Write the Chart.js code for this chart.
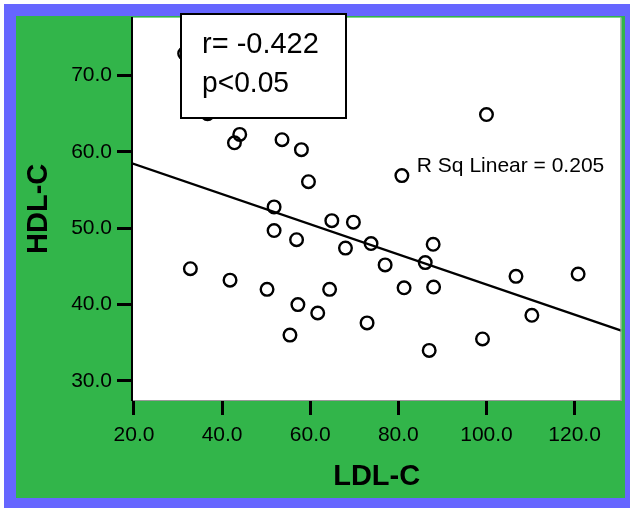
<!DOCTYPE html>
<html>
<head>
<meta charset="utf-8">
<script src="https://cdn.jsdelivr.net/npm/chart.js@4.4.1/dist/chart.umd.min.js"></script>
<style>
  html, body { margin: 0; padding: 0; background: #fff; }
  #wrap { width: 630px; height: 508px; }
</style>
</head>
<body>
<div id="wrap"><canvas id="chart" width="630" height="508"></canvas></div>
<script>
  // ---------- data ----------
  const ldl = [31.5, 36.7, 44.0, 42.8, 53.6, 58.0, 59.6, 51.8, 51.8, 56.9, 32.8, 41.8, 50.2, 57.2,
    55.4, 61.7, 64.4, 72.9, 77.0, 81.3, 88.0, 86.1, 87.0, 64.9, 69.8, 68.0, 73.8, 87.9, 80.8,
    100.0, 106.7, 120.8, 110.3, 99.1];
  const hdl = [72.9, 65.0, 62.3, 61.2, 61.6, 60.3, 56.1, 52.8, 49.7, 48.5, 44.7, 43.2, 42.0, 40.0,
    36.0, 38.9, 42.0, 37.6, 45.2, 42.2, 42.3, 45.5, 34.0, 51.0, 50.8, 47.4, 48.0, 47.9, 56.9,
    64.9, 43.7, 44.0, 38.6, 35.5];
  const fitLdl = [19.55, 130.6];
  const fitHdl = [58.5, 36.6];
  const xTicks = [20, 40, 60, 80, 100, 120];
  const yTicks = [30, 40, 50, 60, 70];
  const statLines = ["r= -0.422", "p<0.05"];
  const rsqText = "R Sq Linear = 0.205";

  const FONT = "'Liberation Sans', Arial, Helvetica, sans-serif";
  const BLUE = "#6666ff";
  const GREEN = "#32b54a";

  const frame = {
    id: "frame",
    beforeDraw(chart) {
      const { ctx, chartArea: a } = chart;
      ctx.save();
      ctx.fillStyle = "#fff";
      ctx.fillRect(0, 0, chart.width, chart.height);
      ctx.fillStyle = BLUE;
      ctx.fillRect(4, 4, chart.width - 4, chart.height - 4);
      ctx.fillStyle = GREEN;
      ctx.fillRect(16, 16, 609, 482);
      ctx.fillStyle = "#fff";
      ctx.fillRect(a.left, a.top, a.right - a.left, a.bottom - a.top);
      ctx.restore();
    },
    afterDraw(chart) {
      const { ctx, chartArea: a, scales } = chart;
      ctx.save();
      // thin right edge of the plot
      ctx.strokeStyle = "#999";
      ctx.lineWidth = 1;
      ctx.beginPath();
      ctx.moveTo(a.right - 0.5, a.top);
      ctx.lineTo(a.right - 0.5, a.bottom);
      ctx.stroke();

      // fit label
      ctx.fillStyle = "#000";
      ctx.font = `21px ${FONT}`;
      ctx.textBaseline = "alphabetic";
      ctx.fillText(rsqText, scales.x.getPixelForValue(84.2), scales.y.getPixelForValue(57.35));

      // stats box
      ctx.fillStyle = "#fff";
      ctx.fillRect(181, 14, 165, 104);
      ctx.strokeStyle = "#000";
      ctx.lineWidth = 2;
      ctx.strokeRect(181, 14, 165, 104);
      ctx.fillStyle = "#000";
      ctx.font = `29px ${FONT}`;
      ctx.fillText(statLines[0], 202, 53, 118);
      ctx.fillText(statLines[1], 202, 92, 87);
      ctx.restore();
    },
  };

  const tickFont = { family: FONT, size: 21 };
  const titleFont = { family: FONT, size: 29, weight: "bold" };
  const gridCfg = {
    drawOnChartArea: false,
    drawTicks: true,
    tickLength: 15,
    tickWidth: 3,
    tickColor: "#000",
  };

  new Chart(document.getElementById("chart"), {
    type: "scatter",
    data: {
      datasets: [
        {
          label: "HDL-C",
          data: ldl.map((x, i) => ({ x, y: hdl[i] })),
          pointRadius: 6.3,
          pointBorderWidth: 2.4,
          pointBorderColor: "#000",
          pointBackgroundColor: "rgba(0,0,0,0)",
        },
        {
          label: "Linear fit",
          data: fitLdl.map((x, i) => ({ x, y: fitHdl[i] })),
          showLine: true,
          borderColor: "#000",
          borderWidth: 2.3,
          pointRadius: 0,
        },
      ],
    },
    options: {
      responsive: false,
      animation: false,
      devicePixelRatio: 1,
      layout: { padding: { top: 15, right: 6, bottom: 0, left: 0 } },
      plugins: { legend: { display: false }, tooltip: { enabled: false } },
      scales: {
        x: {
          type: "linear",
          min: 19.55,
          max: 130.6,
          afterBuildTicks: (s) => { s.ticks = xTicks.map((v) => ({ value: v })); },
          afterFit: (s) => { s.height = 108; },
          ticks: { color: "#000", font: tickFont, padding: 8, maxRotation: 0, autoSkip: false,
            callback: (v) => Number(v).toFixed(1) },
          grid: gridCfg,
          border: { color: "#999", width: 1 },
          title: { display: true, text: "LDL-C", color: "#000", font: titleFont,
            padding: { top: 0, bottom: 13.5 } },
        },
        y: {
          type: "linear",
          min: 27.5,
          max: 77.6,
          afterBuildTicks: (s) => { s.ticks = yTicks.map((v) => ({ value: v })); },
          afterFit: (s) => { s.width = 132; },
          ticks: { color: "#000", font: tickFont, padding: 5, autoSkip: false,
            callback: (v) => Number(v).toFixed(1) },
          grid: gridCfg,
          border: { color: "#000", width: 2 },
          title: { display: true, text: "HDL-C", color: "#000", font: titleFont,
            padding: { top: 21.5, bottom: 0 } },
        },
      },
    },
    plugins: [frame],
  });
</script>
</body>
</html>
